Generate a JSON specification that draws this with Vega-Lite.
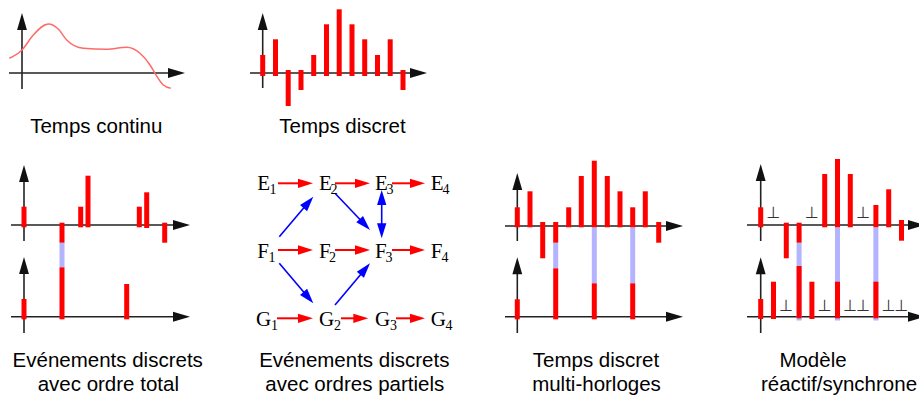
{
  "$schema": "https://vega.github.io/schema/vega-lite/v6.json",
  "width": 919,
  "height": 399,
  "padding": 0,
  "autosize": {"type": "none"},
  "background": "white",
  "config": {"view": {"stroke": null}},
  "datasets": {
    "axes": [
      {"x": 22, "y": 28, "x2": 22, "y2": 89},
      {"x": 9, "y": 73, "x2": 172, "y2": 73},
      {"x": 262.7, "y": 28, "x2": 262.7, "y2": 88},
      {"x": 250, "y": 73, "x2": 414, "y2": 73},
      {"x": 24, "y": 180, "x2": 24, "y2": 241},
      {"x": 11, "y": 225, "x2": 177, "y2": 225},
      {"x": 24, "y": 272, "x2": 24, "y2": 333},
      {"x": 11, "y": 316.7, "x2": 177, "y2": 316.7},
      {"x": 517.3, "y": 188, "x2": 517.3, "y2": 241},
      {"x": 505, "y": 226, "x2": 670, "y2": 226},
      {"x": 517.3, "y": 272, "x2": 517.3, "y2": 333},
      {"x": 505, "y": 316.7, "x2": 670, "y2": 316.7},
      {"x": 760.7, "y": 179, "x2": 760.7, "y2": 241},
      {"x": 747, "y": 225, "x2": 912, "y2": 225},
      {"x": 760.7, "y": 272, "x2": 760.7, "y2": 333},
      {"x": 747, "y": 316.7, "x2": 912, "y2": 316.7}
    ],
    "axisHeads": [
      {"x": 22, "y": 13, "dir": 0},
      {"x": 262.7, "y": 13, "dir": 0},
      {"x": 24, "y": 165, "dir": 0},
      {"x": 24, "y": 257, "dir": 0},
      {"x": 517.3, "y": 173, "dir": 0},
      {"x": 517.3, "y": 257.3, "dir": 0},
      {"x": 760.7, "y": 164, "dir": 0},
      {"x": 760.7, "y": 257.3, "dir": 0},
      {"x": 185, "y": 73, "dir": 90},
      {"x": 427, "y": 73, "dir": 90},
      {"x": 190, "y": 225, "dir": 90},
      {"x": 190, "y": 316.7, "dir": 90},
      {"x": 683, "y": 226, "dir": 90},
      {"x": 683, "y": 316.7, "dir": 90},
      {"x": 925, "y": 225, "dir": 90},
      {"x": 925, "y": 316.7, "dir": 90}
    ],
    "curve": [
      {"x": 9.3, "y": 58.3},
      {"x": 22, "y": 50},
      {"x": 33.3, "y": 35},
      {"x": 48.3, "y": 24},
      {"x": 58.3, "y": 29},
      {"x": 66.7, "y": 40},
      {"x": 83.3, "y": 48.3},
      {"x": 106.7, "y": 49.3},
      {"x": 126.7, "y": 47.3},
      {"x": 140, "y": 53.3},
      {"x": 150, "y": 65},
      {"x": 155, "y": 73.3},
      {"x": 163.3, "y": 85},
      {"x": 170.7, "y": 88.3}
    ],
    "syncBars": [
      {"x": 62, "y": 242.7, "y2": 267.3},
      {"x": 555.7, "y": 242.7, "y2": 268.3},
      {"x": 594.3, "y": 227.3, "y2": 283.3},
      {"x": 632.7, "y": 227.3, "y2": 283.3},
      {"x": 799.1, "y": 242.7, "y2": 320.5},
      {"x": 837.5, "y": 227.3, "y2": 320.5},
      {"x": 875.9, "y": 227.3, "y2": 320.5}
    ],
    "bars": [
      {"x": 262.7, "y": 55, "y2": 76},
      {"x": 275.5, "y": 39.3, "y2": 76},
      {"x": 288.2, "y": 70, "y2": 106},
      {"x": 301, "y": 70, "y2": 90},
      {"x": 313.7, "y": 55, "y2": 76},
      {"x": 326.5, "y": 24.3, "y2": 76},
      {"x": 339.2, "y": 9.3, "y2": 76},
      {"x": 352, "y": 24.3, "y2": 76},
      {"x": 364.7, "y": 39.3, "y2": 76},
      {"x": 377.5, "y": 55, "y2": 76},
      {"x": 390.2, "y": 39.3, "y2": 76},
      {"x": 403, "y": 70, "y2": 90},

      {"x": 24, "y": 206.7, "y2": 227.3},
      {"x": 62, "y": 222.7, "y2": 242.7},
      {"x": 62, "y": 267.3, "y2": 319.3},
      {"x": 80.7, "y": 206.7, "y2": 227.3},
      {"x": 88, "y": 175.7, "y2": 227.3},
      {"x": 139.3, "y": 206.7, "y2": 227.3},
      {"x": 146.7, "y": 192.3, "y2": 228},
      {"x": 164.7, "y": 222.7, "y2": 242.7},
      {"x": 24, "y": 299, "y2": 319.3},
      {"x": 126.7, "y": 284, "y2": 319.3},

      {"x": 517.3, "y": 207.3, "y2": 227.3},
      {"x": 530, "y": 191.3, "y2": 227.3},
      {"x": 542.7, "y": 222, "y2": 258.3},
      {"x": 555.7, "y": 222, "y2": 242.7},
      {"x": 555.7, "y": 268.3, "y2": 319.3},
      {"x": 568.7, "y": 207.3, "y2": 227.3},
      {"x": 581.3, "y": 176, "y2": 227.3},
      {"x": 594.3, "y": 160.7, "y2": 227.3},
      {"x": 594.3, "y": 283.3, "y2": 319.3},
      {"x": 607.3, "y": 176, "y2": 227.3},
      {"x": 620, "y": 191.3, "y2": 227.3},
      {"x": 632.7, "y": 207.3, "y2": 227.3},
      {"x": 632.7, "y": 283.3, "y2": 319.3},
      {"x": 645.3, "y": 191.3, "y2": 227.3},
      {"x": 658.7, "y": 222, "y2": 242.7},
      {"x": 517.3, "y": 299.3, "y2": 319.3},

      {"x": 760.7, "y": 207.3, "y2": 227.3},
      {"x": 786.3, "y": 222.7, "y2": 258.3},
      {"x": 799.1, "y": 222.7, "y2": 242.7},
      {"x": 799.1, "y": 266, "y2": 318.3},
      {"x": 824.7, "y": 174, "y2": 227.3},
      {"x": 837.5, "y": 159, "y2": 227.3},
      {"x": 837.5, "y": 281.7, "y2": 318.3},
      {"x": 850.3, "y": 174, "y2": 227.3},
      {"x": 875.9, "y": 205, "y2": 227.3},
      {"x": 875.9, "y": 281.7, "y2": 318.3},
      {"x": 888.7, "y": 189.3, "y2": 227.3},
      {"x": 901.5, "y": 220, "y2": 240.7},
      {"x": 760.7, "y": 299, "y2": 319},
      {"x": 773.5, "y": 281.7, "y2": 319},
      {"x": 811.9, "y": 281.7, "y2": 319}
    ],
    "absent": [
      {"x": 773.5, "y": 218, "t": "⊥"},
      {"x": 811.9, "y": 218, "t": "⊥"},
      {"x": 863.1, "y": 218, "t": "⊥"},
      {"x": 786.3, "y": 310.7, "t": "⊥"},
      {"x": 824.7, "y": 310.7, "t": "⊥"},
      {"x": 850.3, "y": 310.7, "t": "⊥"},
      {"x": 863.1, "y": 310.7, "t": "⊥"},
      {"x": 888.7, "y": 310.7, "t": "⊥"},
      {"x": 901.5, "y": 310.7, "t": "⊥"}
    ],
    "nodes": [
      {"letter": "E", "sub": "1", "x": 257.3, "xs": 269.5, "y": 190},
      {"letter": "E", "sub": "2", "x": 319, "xs": 330.5, "y": 190},
      {"letter": "E", "sub": "3", "x": 375, "xs": 386.5, "y": 190},
      {"letter": "E", "sub": "4", "x": 430.7, "xs": 442.5, "y": 190},
      {"letter": "F", "sub": "1", "x": 257.3, "xs": 268.5, "y": 258},
      {"letter": "F", "sub": "2", "x": 319, "xs": 329, "y": 258},
      {"letter": "F", "sub": "3", "x": 375, "xs": 385.5, "y": 258},
      {"letter": "F", "sub": "4", "x": 430.7, "xs": 441.5, "y": 258},
      {"letter": "G", "sub": "1", "x": 256, "xs": 271, "y": 326},
      {"letter": "G", "sub": "2", "x": 319, "xs": 334, "y": 326},
      {"letter": "G", "sub": "3", "x": 375, "xs": 390, "y": 326},
      {"letter": "G", "sub": "4", "x": 430.7, "xs": 445.5, "y": 326}
    ],
    "redLinks": [
      {"x": 278, "y": 183.3, "x2": 305, "y2": 183.3},
      {"x": 335, "y": 183.3, "x2": 362, "y2": 183.3},
      {"x": 392, "y": 183.3, "x2": 417, "y2": 183.3},
      {"x": 278, "y": 250, "x2": 305, "y2": 250},
      {"x": 335, "y": 250, "x2": 362, "y2": 250},
      {"x": 392, "y": 250, "x2": 417, "y2": 250},
      {"x": 277, "y": 318.3, "x2": 305, "y2": 318.3},
      {"x": 341, "y": 318.3, "x2": 360, "y2": 318.3},
      {"x": 396, "y": 318.3, "x2": 417, "y2": 318.3}
    ],
    "redHeads": [
      {"x": 313, "y": 183.3, "dir": 90},
      {"x": 370, "y": 183.3, "dir": 90},
      {"x": 425, "y": 183.3, "dir": 90},
      {"x": 313, "y": 250, "dir": 90},
      {"x": 370, "y": 250, "dir": 90},
      {"x": 425, "y": 250, "dir": 90},
      {"x": 313, "y": 318.3, "dir": 90},
      {"x": 368.3, "y": 318.3, "dir": 90},
      {"x": 425, "y": 318.3, "dir": 90}
    ],
    "blueLinks": [
      {"x": 279.3, "y": 236.7, "x2": 308.1, "y2": 202.8},
      {"x": 335, "y": 193.3, "x2": 364.5, "y2": 224.2},
      {"x": 279.3, "y": 263.3, "x2": 308.1, "y2": 297.2},
      {"x": 335, "y": 305, "x2": 364.9, "y2": 269.4},
      {"x": 381.7, "y": 198, "x2": 381.7, "y2": 230.3}
    ],
    "blueHeads": [
      {"x": 313.3, "y": 196.7, "dir": 40.4},
      {"x": 370, "y": 230, "dir": 136.4},
      {"x": 313.3, "y": 303.3, "dir": 139.6},
      {"x": 370, "y": 263.3, "dir": 40},
      {"x": 381.7, "y": 190, "dir": 0},
      {"x": 381.7, "y": 238.3, "dir": 180}
    ],
    "labels": [
      {"x": 96.3, "y": 133, "t": "Temps continu"},
      {"x": 342.5, "y": 133, "t": "Temps discret"},
      {"x": 107.7, "y": 367, "t": "Evénements discrets"},
      {"x": 108.3, "y": 391, "t": "avec ordre total"},
      {"x": 354.3, "y": 367, "t": "Evénements discrets"},
      {"x": 354.8, "y": 391, "t": "avec ordres partiels"},
      {"x": 596, "y": 367, "t": "Temps discret"},
      {"x": 596.5, "y": 391, "t": "multi-horloges"},
      {"x": 813, "y": 367, "t": "Modèle"},
      {"x": 839, "y": 391, "t": "réactif/synchrone"}
    ]
  },
  "encoding": {
    "x": {"field": "x", "type": "quantitative", "scale": {"domain": [0, 919], "nice": false, "zero": false}, "axis": null},
    "y": {"field": "y", "type": "quantitative", "scale": {"domain": [0, 399], "nice": false, "zero": false, "reverse": true}, "axis": null}
  },
  "layer": [
    {
      "data": {"name": "axes"},
      "mark": {"type": "rule", "color": "#222222", "strokeWidth": 1.6},
      "encoding": {"x2": {"field": "x2"}, "y2": {"field": "y2"}}
    },
    {
      "data": {"name": "axisHeads"},
      "mark": {"type": "point", "shape": "M0,0L0.58,2L-0.58,2Z", "size": 289, "filled": true, "color": "#111111", "opacity": 1, "strokeWidth": 0},
      "encoding": {"angle": {"field": "dir", "type": "quantitative", "scale": null}}
    },
    {
      "data": {"name": "curve"},
      "mark": {"type": "line", "color": "#ff6a6a", "strokeWidth": 1.5, "interpolate": "monotone"},
      "encoding": {}
    },
    {
      "data": {"name": "syncBars"},
      "mark": {"type": "rule", "color": "#b3b3ff", "strokeWidth": 5},
      "encoding": {"y2": {"field": "y2"}}
    },
    {
      "data": {"name": "bars"},
      "mark": {"type": "rule", "color": "#ff0000", "strokeWidth": 5},
      "encoding": {"y2": {"field": "y2"}}
    },
    {
      "data": {"name": "absent"},
      "mark": {"type": "text", "font": "DejaVu Sans", "fontSize": 16, "color": "#333333", "align": "center", "baseline": "alphabetic"},
      "encoding": {"text": {"field": "t"}}
    },
    {
      "data": {"name": "redLinks"},
      "mark": {"type": "rule", "color": "#ff0000", "strokeWidth": 2},
      "encoding": {"x2": {"field": "x2"}, "y2": {"field": "y2"}}
    },
    {
      "data": {"name": "redHeads"},
      "mark": {"type": "point", "shape": "M0,0L0.62,2L-0.62,2Z", "size": 225, "filled": true, "color": "#ff0000", "opacity": 1, "strokeWidth": 0},
      "encoding": {"angle": {"field": "dir", "type": "quantitative", "scale": null}}
    },
    {
      "data": {"name": "blueLinks"},
      "mark": {"type": "rule", "color": "#0000ff", "strokeWidth": 1.6},
      "encoding": {"x2": {"field": "x2"}, "y2": {"field": "y2"}}
    },
    {
      "data": {"name": "blueHeads"},
      "mark": {"type": "point", "shape": "M0,0L0.62,2L-0.62,2Z", "size": 225, "filled": true, "color": "#0000ff", "opacity": 1, "strokeWidth": 0},
      "encoding": {"angle": {"field": "dir", "type": "quantitative", "scale": null}}
    },
    {
      "data": {"name": "nodes"},
      "mark": {"type": "text", "font": "Liberation Serif", "fontSize": 21, "color": "#000000", "align": "left", "baseline": "alphabetic"},
      "encoding": {"text": {"field": "letter"}}
    },
    {
      "data": {"name": "nodes"},
      "mark": {"type": "text", "font": "Liberation Serif", "fontSize": 14, "color": "#000000", "align": "left", "baseline": "alphabetic", "dy": 4},
      "encoding": {"x": {"field": "xs", "type": "quantitative"}, "text": {"field": "sub"}}
    },
    {
      "data": {"name": "labels"},
      "mark": {"type": "text", "font": "Liberation Sans", "fontSize": 20.5, "color": "#000000", "align": "center", "baseline": "alphabetic"},
      "encoding": {"text": {"field": "t"}}
    }
  ]
}
